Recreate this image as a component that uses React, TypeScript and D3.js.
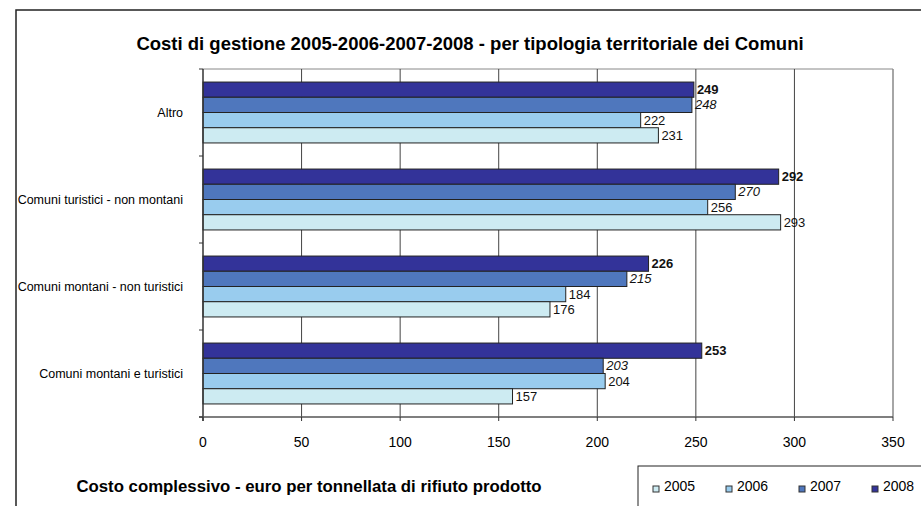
import React from "react";
import * as d3 from "d3";

const categories = [
  "Altro",
  "Comuni turistici - non montani",
  "Comuni montani - non turistici",
  "Comuni montani e turistici",
];
const years = ["2008", "2007", "2006", "2005"];
const values2008 = [249, 292, 226, 253];
const values2007 = [248, 270, 215, 203];
const values2006 = [222, 256, 184, 204];
const values2005 = [231, 293, 176, 157];
const xTicks = [0, 50, 100, 150, 200, 250, 300, 350];
const legendYears = ["2005", "2006", "2007", "2008"];

const seriesValues: Record<string, number[]> = {
  "2008": values2008,
  "2007": values2007,
  "2006": values2006,
  "2005": values2005,
};
const colors: Record<string, string> = {
  "2008": "#333399",
  "2007": "#4f77bd",
  "2006": "#99ccee",
  "2005": "#cdebf2",
};
const labelStyle: Record<string, { fontWeight: string; fontStyle: string }> = {
  "2008": { fontWeight: "bold", fontStyle: "normal" },
  "2007": { fontWeight: "normal", fontStyle: "italic" },
  "2006": { fontWeight: "normal", fontStyle: "normal" },
  "2005": { fontWeight: "normal", fontStyle: "normal" },
};

export default function App() {
  const W = 921, H = 506;
  const left = 203, right = 893, top = 69, bottom = 417;
  const x = d3.scaleLinear().domain([0, 350]).range([left, right]);
  const y0 = d3.scaleBand().domain(categories).range([top, bottom]).paddingInner(0.3).paddingOuter(0.15);
  const y1 = d3.scaleBand().domain(years).range([0, y0.bandwidth()]);
  const step = y0.step();
  const font = "Arial, 'Liberation Sans', sans-serif";

  return (
    <svg width={W} height={H} style={{ position: "absolute", left: 0, top: 0, background: "#fff" }} fontFamily={font}>
      <rect x={16} y={10} width={W} height={H} fill="#fff" stroke="#222" strokeWidth={1.5} />
      <text x={470} y={50} textAnchor="middle" fontSize={18.5} fontWeight="bold" fill="#000">
        Costi di gestione 2005-2006-2007-2008 - per tipologia territoriale dei Comuni
      </text>
      {/* plot border */}
      <line x1={left} x2={right} y1={top} y2={top} stroke="#888" />
      <line x1={right} x2={right} y1={top} y2={bottom} stroke="#888" strokeWidth={1.5} />
      {/* gridlines */}
      {xTicks.slice(1, -1).map((t) => (
        <line key={t} x1={x(t)} x2={x(t)} y1={top} y2={bottom} stroke="#444" />
      ))}
      {/* bars */}
      {categories.map((c, i) => (
        <g key={c} transform={`translate(0,${y0(c)})`}>
          {years.map((yr) => {
            const v = seriesValues[yr][i];
            return (
              <g key={yr}>
                <rect x={x(0)} y={y1(yr)!} width={x(v) - x(0)} height={y1.bandwidth()} fill={colors[yr]} stroke="#222" strokeWidth={1} />
                <text x={x(v) + 3} y={y1(yr)! + y1.bandwidth() / 2 + 4.5} fontSize={13} fill="#111"
                  fontWeight={labelStyle[yr].fontWeight} fontStyle={labelStyle[yr].fontStyle}>
                  {v}
                </text>
              </g>
            );
          })}
        </g>
      ))}
      {/* axes */}
      <line x1={left} x2={left} y1={top} y2={bottom + 4} stroke="#333" strokeWidth={1.5} />
      <line x1={left - 4} x2={right} y1={bottom} y2={bottom} stroke="#555" strokeWidth={1.5} />
      {d3.range(categories.length + 1).map((k) => (
        <line key={k} x1={left - 4} x2={left} y1={top + k * step} y2={top + k * step} stroke="#333" />
      ))}
      {xTicks.map((t) => (
        <g key={t}>
          <line x1={x(t)} x2={x(t)} y1={bottom} y2={bottom + 4} stroke="#333" />
          <text x={x(t)} y={bottom + 30} textAnchor="middle" fontSize={14} fill="#000">{t}</text>
        </g>
      ))}
      {categories.map((c) => (
        <text key={c} x={183} y={y0(c)! + y0.bandwidth() / 2 + 4.5} textAnchor="end" fontSize={12.5} fill="#000">
          {c}
        </text>
      ))}
      <text x={309} y={492} textAnchor="middle" fontSize={16.8} fontWeight="bold" fill="#000">
        Costo complessivo - euro per tonnellata di rifiuto prodotto
      </text>
      {/* legend */}
      <rect x={638} y={466} width={400} height={100} fill="#fff" stroke="#222" />
      {legendYears.map((yr, i) => (
        <g key={yr} transform={`translate(${653 + i * 73},0)`}>
          <rect x={0} y={486} width={6} height={6} fill={colors[yr]} stroke="#333" />
          <text x={11} y={491} fontSize={14} fill="#000">{yr}</text>
        </g>
      ))}
    </svg>
  );
}
